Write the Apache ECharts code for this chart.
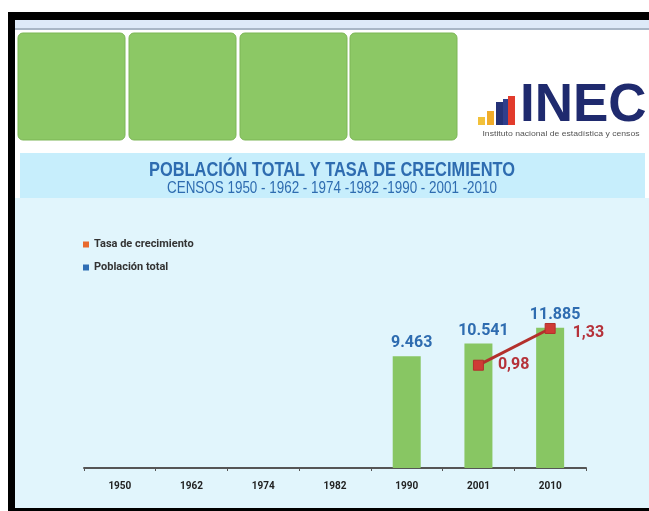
<!DOCTYPE html>
<html>
<head>
<meta charset="utf-8">
<script src="https://cdn.jsdelivr.net/npm/echarts@6.0.0/dist/echarts.min.js"></script>
<style>
  html, body { margin: 0; padding: 0; background: #fff; }
  #chart { width: 649px; height: 511px; }
</style>
</head>
<body>
<div id="chart"></div>
<script>
// datos censales
const years = ['1950', '1962', '1974', '1982', '1990', '2001', '2010'];
const poblacion = [null, null, null, null, 9463, 10541, 11885]; // miles de habitantes
const tasa = [null, null, null, null, null, 0.98, 1.33];

// no hay fuentes condensadas: Roboto es la más estrecha disponible
const FONT = 'Roboto, "Liberation Sans", sans-serif';
const SANS = '"Liberation Sans", Arial, sans-serif';
const BLUE = '#2e6cb0';
const RED = '#b5323a';

const chart = echarts.init(document.getElementById('chart'));

function miles(v) {
  return (v / 1000).toFixed(3);
}

// fondo de la lámina
const greenBoxes = [18, 129, 240, 350].map(function (x) {
  return {
    type: 'rect', z: 0,
    shape: { x: x, y: 33, width: 107, height: 107, r: 5 },
    style: { fill: '#8cc865', stroke: '#7db657', lineWidth: 1 }
  };
});

const logoBars = [
  [478, 117, '#f2c13a'],
  [487, 111, '#f0ac2a'],
  [496, 102, '#243277'],
  [503, 99, '#2f3f8c'],
  [508, 96, '#e23b2c']
].map(function (b) {
  return {
    type: 'rect', z: 1,
    shape: { x: b[0], y: b[1], width: 7, height: 125 - b[1] },
    style: { fill: b[2] }
  };
});

const graphic = [
  { type: 'rect', z: 0, shape: { x: 0, y: 0, width: 649, height: 511 }, style: { fill: '#ffffff' } },
  { type: 'rect', z: 0, shape: { x: 15, y: 20, width: 634, height: 8 }, style: { fill: '#dde9f8' } },
  { type: 'rect', z: 0, shape: { x: 15, y: 28, width: 634, height: 2 }, style: { fill: '#a8b6c6' } },
  { type: 'rect', z: 0, shape: { x: 20, y: 153, width: 625, height: 45 }, style: { fill: '#c7eefc' } },
  { type: 'rect', z: 0, shape: { x: 15, y: 198, width: 634, height: 310 }, style: { fill: '#e1f5fc' } },
  { type: 'rect', z: 0, shape: { x: 8, y: 12, width: 641, height: 8 }, style: { fill: '#000000' } },
  { type: 'rect', z: 0, shape: { x: 8, y: 12, width: 7, height: 499 }, style: { fill: '#000000' } },
  { type: 'rect', z: 0, shape: { x: 8, y: 508, width: 641, height: 3 }, style: { fill: '#000000' } },
  {
    type: 'text', z: 1, x: 520, y: 106,
    style: { text: 'INEC', font: 'bold 53px ' + SANS, fill: '#1f2a6e', align: 'left', verticalAlign: 'middle' }
  },
  {
    type: 'text', z: 1, x: 561, y: 134, scaleX: 1.08,
    style: { text: 'Instituto nacional de estadística y censos', font: '8px ' + SANS, fill: '#555555', align: 'center', verticalAlign: 'middle' }
  },
  {
    type: 'text', z: 1, x: 332, y: 170, scaleX: 0.82,
    style: { text: 'POBLACIÓN TOTAL Y TASA DE CRECIMIENTO', font: 'bold 20px ' + SANS, fill: BLUE, align: 'center', verticalAlign: 'middle' }
  },
  {
    type: 'text', z: 1, x: 332, y: 188, scaleX: 0.79,
    style: { text: 'CENSOS 1950 - 1962 - 1974 -1982 -1990 - 2001 -2010', font: '17px ' + SANS, fill: BLUE, align: 'center', verticalAlign: 'middle' }
  }
].concat(greenBoxes, logoBars);

const option = {
  animation: false,
  graphic: graphic,
  legend: {
    orient: 'vertical',
    left: 83,
    top: 239,
    padding: 0,
    itemWidth: 6,
    itemHeight: 6,
    itemGap: 12,
    textStyle: { fontFamily: FONT, fontSize: 11, fontWeight: 'bold', color: '#333' },
    data: [
      { name: 'Tasa de crecimiento', icon: 'rect', itemStyle: { color: '#e8692d', borderWidth: 0 } },
      { name: 'Población total', icon: 'rect', itemStyle: { color: '#2f6eb5', borderWidth: 0 } }
    ]
  },
  grid: { left: 84, right: 63, top: 232, bottom: 43 },
  xAxis: {
    type: 'category',
    data: years,
    axisLine: { lineStyle: { color: '#555', width: 2 } },
    axisTick: { show: true, length: 3, lineStyle: { color: '#555' } },
    axisLabel: { margin: 13, fontFamily: FONT, fontSize: 10, fontWeight: 'bold', color: '#222' }
  },
  yAxis: [
    { type: 'value', min: 0, max: 20000, show: false, splitLine: { show: false } },
    { type: 'value', min: 0, max: 2.25, show: false, splitLine: { show: false } }
  ],
  series: [
    {
      name: 'Población total',
      type: 'bar',
      data: poblacion,
      barWidth: 28,
      itemStyle: { color: '#88c663' },
      label: {
        show: true,
        position: 'top',
        distance: 5,
        offset: [5, 0],
        fontFamily: FONT,
        fontSize: 16,
        fontWeight: 'bold',
        color: BLUE,
        formatter: function (p) { return p.value == null ? '' : miles(p.value); }
      }
    },
    {
      name: 'Tasa de crecimiento',
      type: 'line',
      yAxisIndex: 1,
      data: tasa.map(function (v, i) {
        return i === tasa.length - 1 ? { value: v, label: { offset: [3, 5] } } : v;
      }),
      symbol: 'rect',
      symbolSize: 10,
      lineStyle: { color: '#b3302c', width: 3 },
      itemStyle: { color: '#cf3b35', borderColor: '#b3302c', borderWidth: 1 },
      label: {
        show: true,
        position: 'right',
        distance: 14,
        fontFamily: FONT,
        fontSize: 16,
        fontWeight: 'bold',
        color: RED,
        formatter: function (p) { return p.value == null ? '' : p.value.toFixed(2).replace('.', ','); }
      }
    }
  ]
};

chart.setOption(option);
</script>
</body>
</html>
